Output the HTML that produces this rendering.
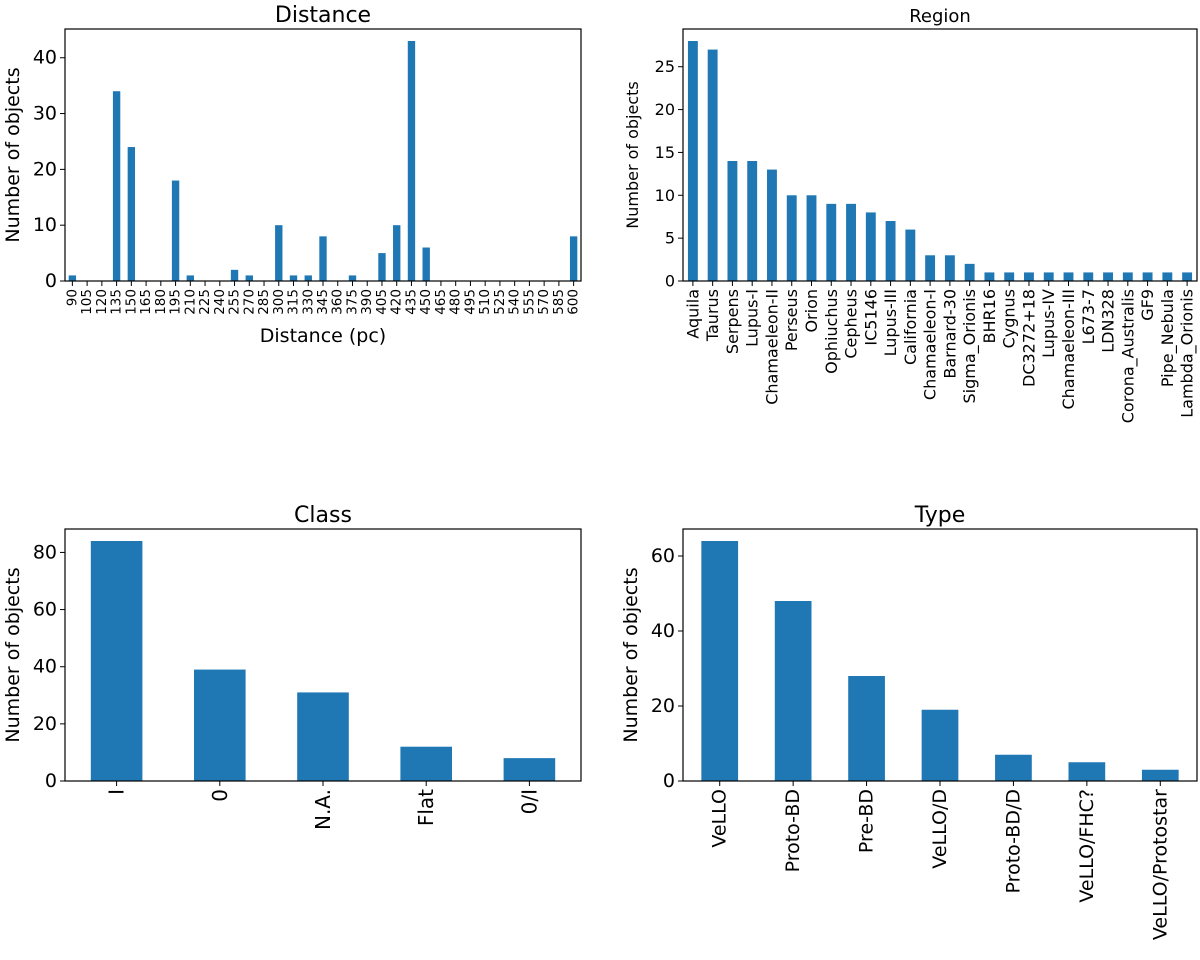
<!DOCTYPE html>
<html><head><meta charset="utf-8"><style>
body{margin:0;background:#fff;}
svg text{font-family:"DejaVu Sans","Liberation Sans",sans-serif;fill:#000;}
</style></head><body>
<svg id="fig" width="1200" height="955" xmlns="http://www.w3.org/2000/svg"></svg>
<script>
const distCats=[90,105,120,135,150,165,180,195,210,225,240,255,270,285,300,315,330,345,360,375,390,405,420,435,450,465,480,495,510,525,540,555,570,585,600];
const distVals=[1,0,0,34,24,0,0,18,1,0,0,2,1,0,10,1,1,8,0,1,0,5,10,43,6,0,0,0,0,0,0,0,0,0,8];
const distTicks=[0,10,20,30,40];
const regionCats=["Aquila","Taurus","Serpens","Lupus-I","Chamaeleon-II","Perseus","Orion","Ophiuchus","Cepheus","IC5146","Lupus-III","California","Chamaeleon-I","Barnard-30","Sigma_Orionis","BHR16","Cygnus","DC3272+18","Lupus-IV","Chamaeleon-III","L673-7","LDN328","Corona_Australis","GF9","Pipe_Nebula","Lambda_Orionis"];
const regionVals=[28,27,14,14,13,10,10,9,9,8,7,6,3,3,2,1,1,1,1,1,1,1,1,1,1,1];
const regionTicks=[0,5,10,15,20,25];
const classCats=["I","0","N.A.","Flat","0/I"];
const classVals=[84,39,31,12,8];
const classTicks=[0,20,40,60,80];
const typeCats=["VeLLO","Proto-BD","Pre-BD","VeLLO/D","Proto-BD/D","VeLLO/FHC?","VeLLO/Protostar"];
const typeVals=[64,48,28,19,7,5,3];
const typeTicks=[0,20,40,60];

const NS="http://www.w3.org/2000/svg";
const fig=document.getElementById('fig');
function mk(tag,attrs,parent,txt){const e=document.createElementNS(NS,tag);for(const k in attrs)e.setAttribute(k,attrs[k]);if(txt!==undefined)e.textContent=txt;parent.appendChild(e);return e;}

function chart(o){
  const g=mk('g',{},fig);
  
  
  const W=o.x1-o.x0,H=o.y1-o.y0,n=o.cats.length;
  const ymax=Math.max(...o.vals)*1.05;
  const xs=i=>o.x0+W*(i+0.5)/n;
  const ys=v=>o.y1-H*v/ymax;
  const bw=W/n*0.5;
  o.vals.forEach((v,i)=>{
    const r=mk('rect',{x:xs(i)-bw/2,y:ys(v),width:bw,height:o.y1-ys(v),fill:'#1f77b4'},g);
    
    
  });
  mk('rect',{x:o.x0,y:o.y0,width:W,height:H,fill:'none',stroke:'#000','stroke-width':1.2},g);
  o.ticks.forEach(t=>{
    const y=ys(t);
    mk('line',{x1:o.x0-5,x2:o.x0,y1:y,y2:y,stroke:'#000','stroke-width':1},g);
    const tl=mk('text',{x:o.x0-8,y:y,'font-size':o.yfs,'text-anchor':'end','dominant-baseline':'central'},g,String(t));
    
    
  });
  o.cats.forEach((c,i)=>{
    const x=xs(i);
    mk('line',{x1:x,x2:x,y1:o.y1,y2:o.y1+5,stroke:'#000','stroke-width':1},g);
    const tl=mk('text',{x:0,y:0,'font-size':o.xfs,'text-anchor':'end','dominant-baseline':'central',transform:`translate(${x},${o.y1+8}) rotate(-90)`},g,String(c));
    
    
  });
  const t=mk('text',{x:(o.x0+o.x1)/2,y:o.y0-7,'font-size':o.tfs,'text-anchor':'middle'},g,o.title);
  
  
  const yl=mk('text',{x:0,y:0,'font-size':o.ylfs,'text-anchor':'middle',transform:`translate(${o.ylx},${(o.y0+o.y1)/2}) rotate(-90)`},g,'Number of objects');
  
  
  if(o.xlabel){
    const xl=mk('text',{x:(o.x0+o.x1)/2,y:o.xly,'font-size':19,'text-anchor':'middle'},g,o.xlabel);
    
    
  }
}
chart({name:'distance-chart',cats:distCats,vals:distVals,ticks:distTicks,x0:65,x1:581,y0:29,y1:281,title:'Distance',tfs:22,yfs:19,xfs:13.5,ylfs:19,ylx:19,xlabel:'Distance (pc)',xly:342});
chart({name:'region-chart',cats:regionCats,vals:regionVals,ticks:regionTicks,x0:683,x1:1197,y0:29,y1:281,title:'Region',tfs:18,yfs:16,xfs:16,ylfs:16,ylx:638});
chart({name:'class-chart',cats:classCats,vals:classVals,ticks:classTicks,x0:65,x1:581,y0:529,y1:781,title:'Class',tfs:22,yfs:19,xfs:20,ylfs:19,ylx:19});
chart({name:'type-chart',cats:typeCats,vals:typeVals,ticks:typeTicks,x0:683,x1:1197,y0:529,y1:781,title:'Type',tfs:22,yfs:19,xfs:19,ylfs:19,ylx:637});
</script>
</body></html>
